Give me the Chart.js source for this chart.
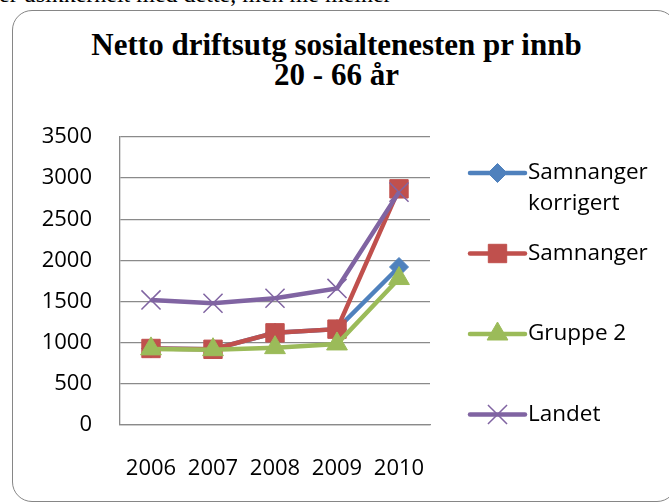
<!DOCTYPE html>
<html>
<head>
<meta charset="utf-8">
<script src="https://cdn.jsdelivr.net/npm/chart.js@4"></script>
<style>
  html, body { margin: 0; padding: 0; background: #fff; }
  body { width: 669px; height: 504px; position: relative; overflow: hidden; }
  #above {
    position: absolute; left: -1px; top: -18px;
    font: 24px/24px "Liberation Serif", serif; white-space: nowrap; color: #000;
  }
  #frame {
    position: absolute; left: 12px; top: 10px; width: 665px; height: 492px;
    border: 1.5px solid #868686; border-radius: 20px; box-sizing: border-box;
  }
  #title {
    position: absolute; left: 2px; top: 30px; width: 669px; text-align: center;
    font: bold 31px/30px "Liberation Serif", serif; color: #000;
  }
  #chart { position: absolute; left: 0; top: 0; }
</style>
</head>
<body>
<div id="above">er usikkerheit med dette, men me meiner</div>
<div id="frame"></div>
<div id="title">Netto driftsutg sosialtenesten pr innb<br>20 - 66 år</div>
<canvas id="chart" width="669" height="504"></canvas>
<script>
const years = ["2006", "2007", "2008", "2009", "2010"];
const samnangerKorrigert = [930, 920, 1120, 1165, 1920];
const samnanger = [930, 920, 1120, 1165, 2870];
const gruppe2 = [925, 915, 940, 985, 1780];
const landet = [1520, 1480, 1540, 1660, 2830];
const yTicks = [0, 500, 1000, 1500, 2000, 2500, 3000, 3500];

const fontFamily = '"Open Sans", "DejaVu Sans", sans-serif';
const gridColor = "#8a8a8a";

const makeSeries = (label, data, color, style, radius, order) => ({
  label: label,
  data: data,
  borderColor: color,
  backgroundColor: color,
  borderWidth: 4.5,
  pointStyle: style,
  pointRadius: radius,
  pointHoverRadius: radius,
  pointBackgroundColor: color,
  pointBorderColor: color,
  pointBorderWidth: style === "crossRot" ? 1.5 : 1,
  tension: 0,
  order: order,
});

// legend at the right: line + marker + wrapped label
const sideLegend = {
  id: "sideLegend",
  afterDraw(chart) {
    const ctx = chart.ctx;
    const x0 = 470, x1 = 525, tx = 528, maxW = 135;
    let y = 173;
    ctx.save();
    ctx.font = "22.5px " + fontFamily;
    ctx.textBaseline = "middle";
    ctx.textAlign = "left";
    chart.data.datasets.forEach((ds) => {
      ctx.strokeStyle = ds.borderColor;
      ctx.lineWidth = ds.borderWidth;
      ctx.lineCap = "round";
      ctx.beginPath();
      ctx.moveTo(x0, y);
      ctx.lineTo(x1, y);
      ctx.stroke();
      ctx.lineCap = "butt";
      ctx.fillStyle = ds.pointBackgroundColor;
      ctx.strokeStyle = ds.pointBorderColor;
      ctx.lineWidth = ds.pointBorderWidth;
      Chart.helpers.drawPoint(ctx, {
        pointStyle: ds.pointStyle,
        radius: ds.pointRadius,
        rotation: 0,
        borderWidth: ds.pointBorderWidth,
      }, (x0 + x1) / 2, y);

      // simple word wrap
      const words = ds.label.split(" ");
      const lines = [];
      let cur = "";
      words.forEach((w) => {
        const test = cur ? cur + " " + w : w;
        if (cur && ctx.measureText(test).width > maxW) {
          lines.push(cur);
          cur = w;
        } else {
          cur = test;
        }
      });
      lines.push(cur);
      ctx.fillStyle = "#000";
      lines.forEach((ln, k) => ctx.fillText(ln, tx, y + k * 31));
      y += 80.5;
    });
    ctx.restore();
  },
};

new Chart(document.getElementById("chart"), {
  type: "line",
  data: {
    labels: years,
    datasets: [
      makeSeries("Samnanger korrigert", samnangerKorrigert, "#4F81BD", "rectRot", 9.5, 4),
      makeSeries("Samnanger", samnanger, "#C0504D", "rect", 13, 3),
      makeSeries("Gruppe 2", gruppe2, "#9BBB59", "triangle", 12, 2),
      makeSeries("Landet", landet, "#8064A2", "crossRot", 13.5, 1),
    ],
  },
  options: {
    responsive: false,
    animation: false,
    layout: { padding: { left: 30, right: 239, top: 137, bottom: 19 } },
    plugins: {
      legend: { display: false },
      title: { display: false },
      tooltip: { enabled: false },
    },
    scales: {
      x: {
        offset: true,
        grid: { display: false, drawTicks: false },
        border: { display: true, color: gridColor, width: 1.3 },
        ticks: { color: "#000", font: { family: fontFamily, size: 22 }, padding: 31, maxRotation: 0 },
        afterFit: (scale) => { scale.height = 60; },
      },
      y: {
        min: yTicks[0],
        max: yTicks[yTicks.length - 1],
        afterBuildTicks: (scale) => { scale.ticks = yTicks.map((v) => ({ value: v })); },
        grid: { color: gridColor, lineWidth: 1.3, drawTicks: false },
        border: { display: true, color: gridColor, width: 1.3 },
        ticks: {
          color: "#000",
          font: { family: fontFamily, size: 22 },
          padding: 28,
          callback: (v) => String(v),
        },
        afterFit: (scale) => { scale.width = 90; },
      },
    },
  },
  plugins: [sideLegend],
});
</script>
</body>
</html>
